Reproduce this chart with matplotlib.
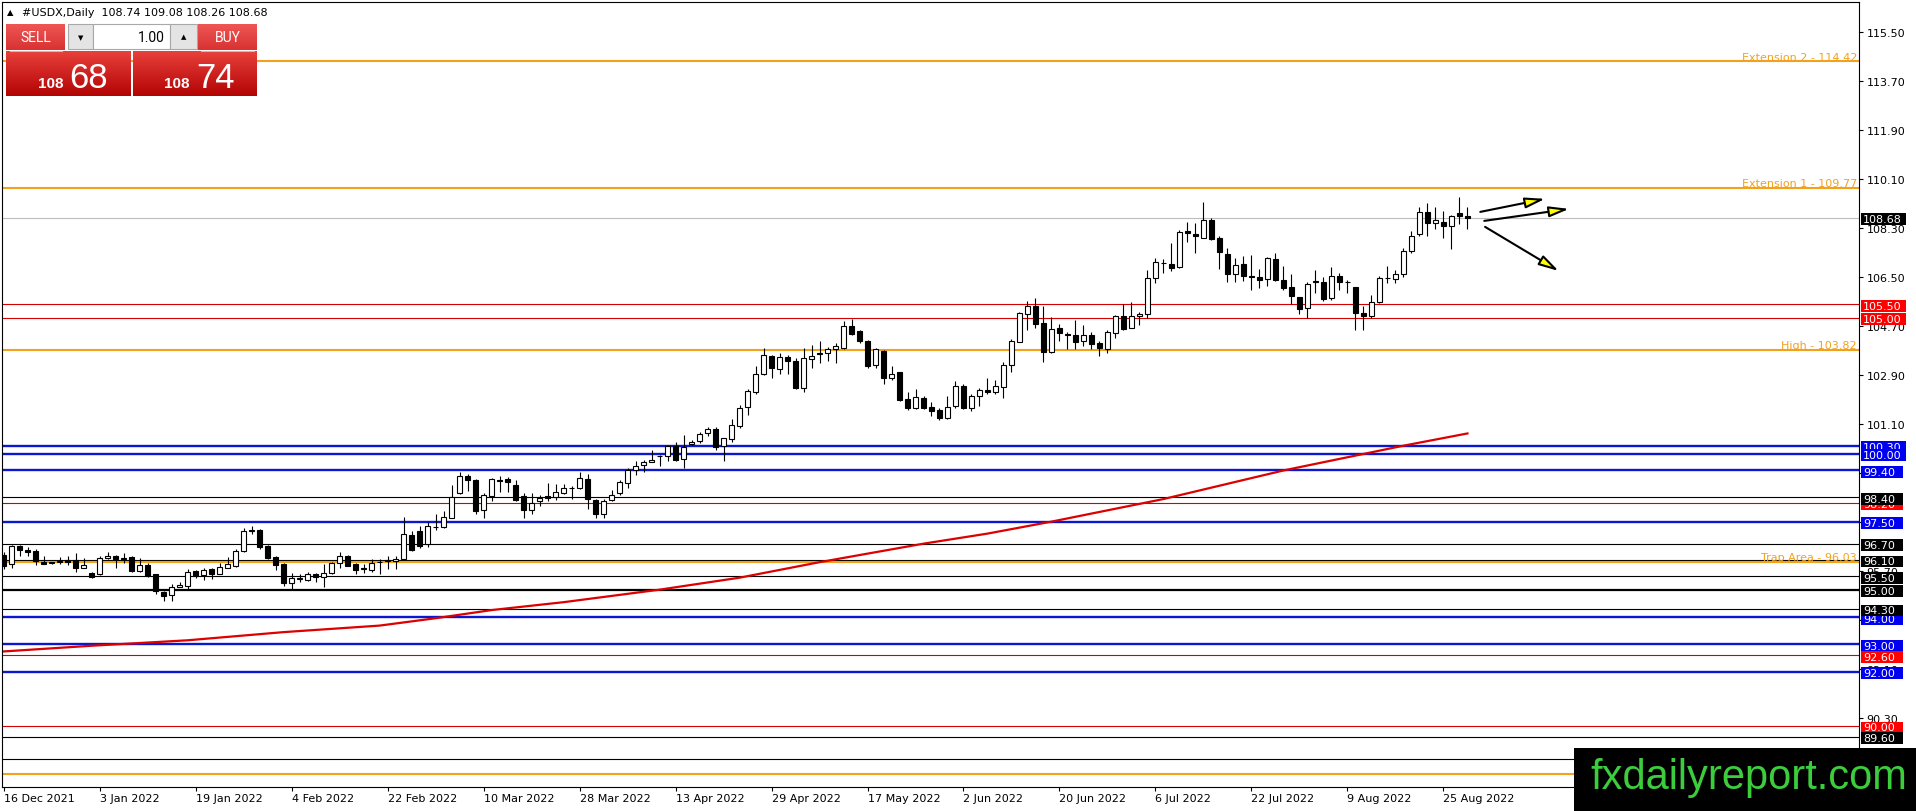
import numpy as np
import matplotlib
matplotlib.use("Agg")
import matplotlib.pyplot as plt
from matplotlib.patches import Rectangle
from matplotlib.colors import LinearSegmentedColormap
from matplotlib.transforms import blended_transform_factory

# #USDX daily candles, 16 Dec 2021 .. 30 Aug 2022
opens = [
    96.29, 95.94, 96.61, 96.47, 96.42, 96.02, 95.99, 96.04, 96.10, 96.10,
    95.82, 95.61, 95.58, 96.16, 96.25, 96.16, 96.21, 95.69, 95.93, 95.57,
    94.92, 94.82, 95.10, 95.16, 95.70, 95.55, 95.76, 95.58, 95.82, 95.89,
    96.43, 97.19, 97.19, 96.62, 96.20, 95.96, 95.27, 95.41, 95.36, 95.58,
    95.47, 95.61, 95.98, 96.24, 95.94, 95.78, 95.75, 96.01, 96.05, 96.08,
    96.14, 97.02, 97.17, 96.68, 97.33,
    97.30, 97.66, 98.55, 99.18, 99.04, 97.94, 98.44, 99.04, 99.08, 98.86,
    98.45, 97.93, 98.25, 98.44, 98.41, 98.56, 98.73, 98.74, 99.08, 98.32,
    97.78, 98.30, 98.55, 98.93, 99.42, 99.58, 99.70, 99.92, 99.91, 100.30,
    99.81, 100.35, 100.48, 100.76, 100.90, 100.30, 100.55, 101.01, 101.72, 102.26,
    102.92, 103.60, 103.10, 103.56, 103.41, 102.43, 103.50, 103.68, 103.71, 103.85,
    103.90, 104.69, 104.52, 104.15, 103.27, 103.78, 102.80, 103.00, 102.02, 101.70,
    102.05, 101.72, 101.60, 101.31,
    101.75, 102.48, 101.67, 102.12, 102.34, 102.26, 102.46, 103.27,
    104.12, 105.15, 105.45, 104.81, 103.76, 104.64, 104.42, 104.37, 104.14, 104.38,
    104.07, 103.85, 104.44, 105.05, 104.64, 105.05, 105.13, 106.45, 107.00, 106.99,
    106.87, 108.19, 108.09, 107.94, 108.58, 107.94, 107.36, 106.62, 106.96, 106.52,
    106.50, 106.43, 107.16, 106.38, 106.13, 105.76, 105.35, 106.33, 106.30, 105.72,
    106.55, 106.30, 106.12, 105.18, 105.08, 105.59, 106.45, 106.43, 106.60, 107.45,
    108.07, 108.90, 108.48, 108.53, 108.36, 108.85, 108.74,
]
highs = [
    96.38, 96.65, 96.65, 96.56, 96.51, 96.24, 96.03, 96.21, 96.26, 96.35,
    96.16, 95.65, 96.24, 96.38, 96.29, 96.34, 96.24, 96.16, 95.98, 95.60,
    94.97, 95.21, 95.28, 95.77, 95.75, 95.80, 95.80, 95.99, 96.21, 96.51,
    97.27, 97.36, 97.24, 96.65, 96.24, 95.99, 95.63, 95.60, 95.67, 95.63,
    95.94, 96.02, 96.41, 96.29, 95.99, 95.94, 96.14, 96.14, 96.23, 96.24,
    97.68, 97.17, 97.36, 97.49, 97.78,
    97.89, 98.86, 99.35, 99.25, 99.08, 98.56, 99.13, 99.20, 99.15, 99.03,
    98.55, 98.55, 98.47, 98.93, 98.88, 98.88, 98.81, 99.32, 99.27, 98.34,
    98.34, 98.69, 99.03, 99.47, 99.74, 99.79, 100.13, 99.94, 100.33, 100.45,
    100.70, 100.52, 100.82, 100.99, 100.99, 100.60, 101.28, 101.80, 102.39, 103.22,
    103.88, 103.63, 103.71, 103.63, 103.54, 103.88, 104.00, 104.15, 103.94, 104.08,
    104.88, 104.96, 104.56, 104.20, 103.90, 103.83, 103.22, 103.02, 102.26, 102.39,
    102.14, 101.89, 101.68, 102.14,
    102.68, 102.58, 102.21, 102.43, 102.78, 102.73, 103.36, 104.22,
    105.23, 105.62, 105.74, 105.45, 105.03, 104.76, 104.47, 104.93, 104.74, 104.49,
    104.15, 104.56, 105.10, 105.51, 105.59, 105.23, 106.74, 107.19, 107.16, 107.75,
    108.21, 108.51, 108.48, 109.27, 108.65, 107.99, 107.58, 107.19, 107.26, 107.31,
    106.79, 107.23, 107.38, 106.92, 106.60, 105.76, 106.30, 106.74, 106.50, 106.87,
    106.65, 106.38, 106.12, 105.42, 105.84, 106.52, 106.89, 106.77, 107.55, 108.19,
    109.07, 109.22, 109.07, 108.92, 108.78, 109.43, 109.08,
]
lows = [
    95.77, 95.82, 96.26, 96.26, 95.93, 95.94, 95.97, 95.97, 95.92, 95.67,
    95.80, 95.45, 95.55, 96.12, 95.82, 95.98, 95.65, 95.67, 95.48, 94.84,
    94.60, 94.60, 95.09, 95.04, 95.43, 95.36, 95.41, 95.58, 95.80, 95.85,
    96.41, 97.07, 96.51, 96.14, 95.75, 95.14, 95.04, 95.28, 95.33, 95.31,
    95.09, 95.58, 95.82, 95.87, 95.60, 95.63, 95.67, 95.60, 95.77, 95.77,
    96.12, 96.43, 96.53, 96.56, 97.19,
    97.27, 97.64, 98.53, 98.65, 97.78, 97.63, 98.25, 98.61, 98.59, 98.25,
    97.66, 97.78, 98.10, 98.25, 98.32, 98.54, 98.34, 98.71, 97.98, 97.63,
    97.63, 98.27, 98.47, 98.76, 99.23, 99.32, 99.69, 99.54, 99.72, 99.74,
    99.49, 100.33, 100.40, 100.67, 100.16, 99.74, 100.43, 100.96, 101.43, 102.19,
    102.90, 102.78, 102.95, 102.94, 102.39, 102.29, 103.14, 103.32, 103.41, 103.32,
    103.85, 104.37, 104.08, 103.17, 103.14, 102.58, 102.70, 101.94, 101.60, 101.65,
    101.65, 101.38, 101.23, 101.28,
    101.70, 101.65, 101.58, 101.77, 102.19, 102.19, 102.07, 103.00,
    104.10, 104.56, 104.61, 103.37, 103.71, 104.15, 103.85, 103.85, 103.98, 103.85,
    103.61, 103.71, 104.25, 104.56, 104.61, 104.74, 105.00, 106.28, 106.65, 106.72,
    106.84, 107.77, 107.38, 107.94, 107.85, 106.79, 106.33, 106.33, 106.35, 106.03,
    106.11, 106.18, 106.35, 106.03, 105.50, 105.15, 104.98, 105.91, 105.62, 105.64,
    106.03, 105.91, 104.56, 104.56, 104.98, 105.54, 106.28, 106.28, 106.50, 107.38,
    108.02, 108.02, 108.26, 107.92, 107.53, 108.43, 108.26,
]
closes = [
    95.89, 96.61, 96.45, 96.38, 96.05, 95.97, 95.99, 96.04, 96.04, 95.81,
    95.93, 95.47, 96.16, 96.25, 96.13, 96.12, 95.69, 95.91, 95.53, 94.95,
    94.79, 95.09, 95.20, 95.67, 95.53, 95.74, 95.58, 95.85, 95.96, 96.43,
    97.17, 97.18, 96.56, 96.19, 95.93, 95.26, 95.44, 95.44, 95.58, 95.48,
    95.61, 95.98, 96.23, 95.88, 95.75, 95.77, 95.98, 96.02, 96.10, 96.14,
    97.05, 96.48, 96.61, 97.34, 97.30,
    97.67, 98.43, 99.20, 99.05, 97.89, 98.47, 99.08, 98.99, 98.96, 98.32,
    97.95, 98.18, 98.39, 98.39, 98.59, 98.74, 98.74, 99.10, 98.34, 97.78,
    98.28, 98.49, 98.98, 99.42, 99.57, 99.70, 99.78, 99.91, 100.28, 99.76,
    100.25, 100.45, 100.74, 100.90, 100.25, 100.57, 101.06, 101.68, 102.30, 102.92,
    103.62, 103.14, 103.56, 103.43, 102.42, 103.52, 103.61, 103.69, 103.87, 103.95,
    104.69, 104.39, 104.15, 103.22, 103.85, 102.80, 102.95, 101.99, 101.70, 102.08,
    101.68, 101.56, 101.30, 101.72,
    102.48, 101.67, 102.12, 102.34, 102.26, 102.48, 103.27, 104.15,
    105.18, 105.45, 104.78, 103.76, 104.58, 104.44, 104.37, 104.12, 104.37, 104.05,
    103.90, 104.47, 105.05, 104.59, 105.05, 105.13, 106.45, 107.04, 107.01, 106.84,
    108.14, 108.12, 107.99, 108.58, 107.90, 107.41, 106.62, 106.95, 106.52, 106.51,
    106.40, 107.19, 106.40, 106.08, 105.79, 105.32, 106.25, 106.33, 105.69, 106.52,
    106.33, 106.30, 105.18, 105.05, 105.59, 106.45, 106.46, 106.60, 107.45, 108.02,
    108.90, 108.48, 108.58, 108.36, 108.75, 108.73, 108.68,
]

date_labels = ["16 Dec 2021", "3 Jan 2022", "19 Jan 2022", "4 Feb 2022",
               "22 Feb 2022", "10 Mar 2022", "28 Mar 2022", "13 Apr 2022",
               "29 Apr 2022", "17 May 2022", "2 Jun 2022", "20 Jun 2022",
               "6 Jul 2022", "22 Jul 2022", "9 Aug 2022", "25 Aug 2022"]
label_every = 12  # one date label every 12 bars

price_ticks = [115.50, 113.70, 111.90, 110.10, 108.30, 106.50, 104.70, 102.90,
               101.10, 99.30, 97.50, 95.70, 93.90, 92.10, 90.30, 88.50]
# scale labels that sit completely under a price tag or the watermark
hidden_ticks = [99.30, 97.50, 93.90, 88.50]

# red moving average, sampled along the curve (bar index, price)
ma_bar = [0, 11, 23, 35, 47, 54, 61, 70, 82, 92, 102, 115, 123, 131, 145, 160, 175, 183]
ma_val = [92.74, 92.95, 93.15, 93.45, 93.69, 93.96, 94.26, 94.55, 95.01, 95.45,
          96.02, 96.70, 97.07, 97.51, 98.34, 99.39, 100.30, 100.75]

# horizontal levels
level_price = [114.42, 109.77, 108.68, 105.50, 105.00, 103.82, 100.30, 100.00,
               99.40, 98.40, 98.20, 97.50, 96.70, 96.10, 96.03, 95.50, 95.00,
               94.30, 94.00, 93.00, 92.60, 92.00, 90.00, 89.60, 88.80, 88.24]
level_kind = ["orange", "orange", "last", "red", "red", "orange", "blue", "blue",
              "blue", "black", "red", "blue", "black", "black", "orange", "black",
              "black2", "black", "blue", "blue", "red", "blue", "red", "black",
              "black", "orange"]
level_note = {114.42: "Extension 2 - 114.42", 109.77: "Extension 1 - 109.77",
              103.82: "High - 103.82", 96.03: "Trap Area - 96.03"}
# price tags on the right scale, in drawing order (later ones cover earlier)
tag_order = [108.68, 105.50, 105.00, 100.30, 100.00, 99.40, 98.20, 98.40, 97.50,
             96.70, 96.10, 95.50, 95.00, 94.00, 94.30, 93.00, 92.60, 92.00,
             90.00, 89.60]

# projection arrows, (bar, price)
arrow_from = [(184.6, 108.89), (185.1, 108.56), (185.2, 108.34)]
arrow_to = [(192.7, 109.37), (195.7, 109.00), (194.4, 106.72)]

header = "#USDX,Daily  108.74 109.08 108.26 108.68"
bid_big, bid_small = "68", "108"
ask_big, ask_small = "74", "108"
lot = "1.00"

STYLE = {
    "orange": dict(color="#f2a11d", lw=1.5),
    "blue": dict(color="#0b16cf", lw=1.7),
    "red": dict(color="#d30000", lw=0.8),
    "black": dict(color="black", lw=0.8),
    "black2": dict(color="black", lw=1.6),
    "last": dict(color="#bdbdbd", lw=0.8),
}
TAG = {"blue": "#0000f0", "red": "#ff0000", "black": "black",
       "black2": "black", "last": "black"}

W, H = 1916, 812
L, R, T, B = 2, 1859, 2.5, 788
fig = plt.figure(figsize=(W / 100, H / 100), dpi=100)
fig.patch.set_facecolor("white")
ax = fig.add_axes([L / W, 1 - B / H, (R - L) / W, (B - T) / H])
ax.set_xlim(-0.19, 231.94)
ax.set_ylim(87.76, 116.62)
ax_w = R - L

# levels
for p, k in zip(level_price, level_kind):
    ax.axhline(p, color=STYLE[k]["color"], lw=STYLE[k]["lw"], zorder=2)

tr = blended_transform_factory(ax.transAxes, ax.transData)
for p, txt in level_note.items():
    ax.text((1857 - L) / ax_w, p + 0.06, txt, transform=tr, ha="right",
            va="baseline", color=STYLE["orange"]["color"], fontsize=8, zorder=4)

# moving average
ax.plot(ma_bar, ma_val, color="#dd0000", lw=1.6, zorder=2.5)

# candles
x = np.arange(len(opens))
o = np.array(opens)
c = np.array(closes)
ax.vlines(x, lows, highs, color="black", lw=0.8, zorder=3)
body = np.maximum(np.abs(c - o), 0.02)
face = np.where(c >= o, "white", "black")
ax.bar(x, body, bottom=np.minimum(o, c), width=0.6, color=face,
       edgecolor="black", linewidth=0.8, zorder=3.5)

# arrows
for s, e in zip(arrow_from, arrow_to):
    ax.annotate("", xy=e, xytext=s, zorder=8,
                arrowprops=dict(arrowstyle="-|>,head_length=1.2,head_width=0.32",
                                lw=1.5, ec="black", fc="#ffff00",
                                shrinkA=0, shrinkB=0))

# axes look
for sp in ax.spines.values():
    sp.set_color("black")
    sp.set_linewidth(0.8)
ax.yaxis.tick_right()
ax.set_yticks(price_ticks)
ax.set_yticklabels(["" if v in hidden_ticks else f"{v:.2f}" for v in price_ticks])
ax.tick_params(axis="y", length=3, width=0.8, pad=2.5, labelsize=8)
ax.set_xticks(np.arange(len(date_labels)) * label_every)
ax.set_xticklabels(date_labels, ha="left")
ax.tick_params(axis="x", length=3, width=0.8, pad=1.5, labelsize=8)

# price tags on the right
for i, p in enumerate(tag_order):
    k = level_kind[level_price.index(p)]
    w = 45 if p >= 100 else 42
    z = 6 + 0.02 * i
    ax.add_patch(Rectangle(((1861 - L) / ax_w, p - 0.275), w / ax_w, 0.44,
                           transform=tr, facecolor=TAG[k], edgecolor="none",
                           clip_on=False, zorder=z))
    ax.text((1863 - L) / ax_w, p - 0.05, f"{p:.2f}", transform=tr, color="white",
            fontsize=8, ha="left", va="center", clip_on=False, zorder=z + 0.01)

# overlay in pixel coordinates: trade panel, header, watermark
ov = fig.add_axes([0, 0, 1, 1], zorder=10)
ov.set_axis_off()
ov.patch.set_alpha(0)


def grad_box(x0, y0, x1, y1, top, bottom):
    cm = LinearSegmentedColormap.from_list("g", [top, bottom])
    ov.imshow(np.linspace(0, 1, 64).reshape(-1, 1), extent=(x0, x1, y1, y0),
              cmap=cm, aspect="auto", interpolation="bilinear", zorder=1)


ov.text(7, 13, "\u25b2", fontsize=6, va="center", ha="left")
ov.text(22, 13, header, fontsize=8, va="center", ha="left")

grad_box(6, 25, 65, 51, "#ee5654", "#d83232")
grad_box(198, 25, 257, 51, "#ee5654", "#d83232")
grad_box(6, 52, 131, 97, "#e8403b", "#b30404")
grad_box(133, 52, 257, 97, "#e8403b", "#b30404")
for x0, x1 in [(10, 62), (201, 254)]:
    ov.plot([x0, x1], [51.5, 51.5], color="#f3a6a6", lw=0.8, zorder=2)
ov.add_patch(Rectangle((68, 25), 25, 25, fc="#e4e4e4", ec="#a8a8a8", lw=0.8, zorder=2))
ov.add_patch(Rectangle((93, 25), 77, 25, fc="white", ec="#a8a8a8", lw=0.8, zorder=2))
ov.add_patch(Rectangle((170, 25), 27, 25, fc="#e4e4e4", ec="#a8a8a8", lw=0.8, zorder=2))
ov.text(80.5, 38, "\u25bc", fontsize=5, ha="center", va="center", zorder=3)
ov.text(183.5, 37, "\u25b2", fontsize=5, ha="center", va="center", zorder=3)
ov.text(165, 38, lot, fontsize=10, family="Roboto", ha="right", va="center", zorder=3)
ov.text(35.5, 38.5, "SELL", fontsize=10, family="Roboto", color="white",
        ha="center", va="center", zorder=3)
ov.text(227.5, 38.5, "BUY", fontsize=10, family="Roboto", color="white",
        ha="center", va="center", zorder=3)
ov.text(38, 88, bid_small, fontsize=11, family="Liberation Sans", weight="bold",
        color="white", va="baseline", zorder=3)
ov.text(69, 88, bid_big, fontsize=25, family="Liberation Sans", color="white",
        va="baseline", zorder=3)
ov.text(164, 88, ask_small, fontsize=11, family="Liberation Sans", weight="bold",
        color="white", va="baseline", zorder=3)
ov.text(196, 88, ask_big, fontsize=25, family="Liberation Sans", color="white",
        va="baseline", zorder=3)

ov.add_patch(Rectangle((1574, 749), 342, 63, fc="black", ec="none", zorder=5))
ov.text(1590, 789, "fxdailyreport.com", fontsize=30, family="Liberation Sans",
        color="#3ccd3c", va="baseline", ha="left", zorder=6)

ov.set_xlim(0, W)
ov.set_ylim(H, 0)

fig.savefig("out.png", dpi=100)
